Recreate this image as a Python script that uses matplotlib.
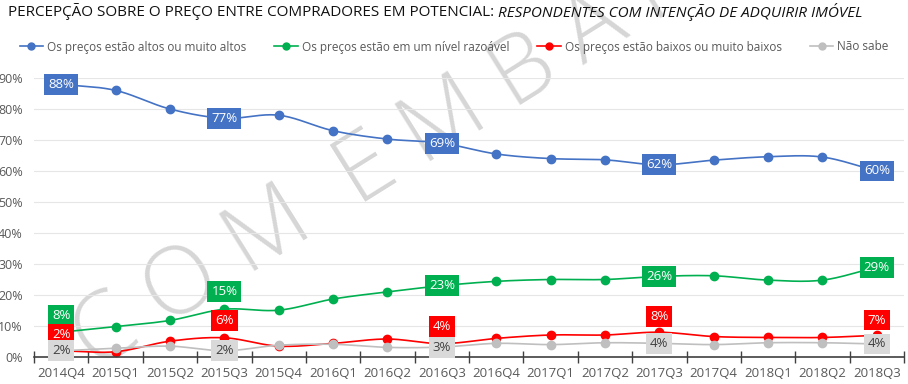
import numpy as np
import matplotlib
matplotlib.use("Agg")
from matplotlib import pyplot as plt

plt.rcParams['font.family'] = ['Open Sans', 'DejaVu Sans']

quarters = ["2014Q4", "2015Q1", "2015Q2", "2015Q3", "2015Q4", "2016Q1", "2016Q2", "2016Q3",
            "2016Q4", "2017Q1", "2017Q2", "2017Q3", "2017Q4", "2018Q1", "2018Q2", "2018Q3"]

altos = [88, 86, 80, 77, 78, 73, 70.3, 69, 65.5, 64, 63.6, 62, 63.5, 64.6, 64.5, 60]
razoavel = [8, 9.8, 11.8, 15.4, 15.1, 18.7, 21, 23, 24.4, 25, 25, 26, 26.2, 24.8, 24.8, 29]
baixos = [2, 1.7, 5.1, 6.2, 3.5, 4.4, 5.8, 4.3, 6, 7.1, 7.1, 8, 6.6, 6.3, 6.3, 7]
nao_sabe = [2, 2.8, 3.5, 2, 3.8, 4.1, 3.1, 3.2, 4.4, 4.0, 4.6, 4.4, 4.0, 4.6, 4.6, 4.2]

labels_idx = [0, 3, 7, 11, 15]  # pontos com rótulo

series = [
    ("Os preços estão altos ou muito altos", altos, "#4472C4", "white", "#4472C4"),
    ("Os preços estão em um nível razoável", razoavel, "#00B050", "white", "#00B050"),
    ("Os preços estão baixos ou muito baixos", baixos, "#FF0000", "white", "#FF0000"),
    ("Não sabe", nao_sabe, "#BFBFBF", "#404040", "#D9D9D9"),
]
# deslocamento vertical dos rótulos (em pontos)
offsets = {
    0: [0, 0, 0, 0, 0],
    1: [12, 13, 0, 0, 0],
    2: [12, 12.5, 12.5, 11, 11],
    3: [0, 0, 0, 0, 0],
}


def smooth(y, n=20):
    """Courbe de Catmull-Rom passant par les points (pour le tracé lissé)."""
    y = np.asarray(y, dtype=float)
    x = np.arange(len(y), dtype=float)
    p = np.concatenate([[2 * y[0] - y[1]], y, [2 * y[-1] - y[-2]]])
    xs, ys = [], []
    for i in range(len(y) - 1):
        p0, p1, p2, p3 = p[i], p[i + 1], p[i + 2], p[i + 3]
        t = np.linspace(0, 1, n, endpoint=False)
        yy = 0.5 * ((2 * p1) + (-p0 + p2) * t + (2 * p0 - 5 * p1 + 4 * p2 - p3) * t ** 2
                    + (-p0 + 3 * p1 - 3 * p2 + p3) * t ** 3)
        xs.append(x[i] + t)
        ys.append(yy)
    xs.append([x[-1]])
    ys.append([y[-1]])
    return np.concatenate(xs), np.concatenate(ys)


fig = plt.figure(figsize=(9.08, 3.84), dpi=100)
ax = fig.add_axes([34 / 908, 1 - 357 / 384, 870 / 908, 279 / 384])
ax.set_facecolor("none")

x = np.arange(len(quarters))
handles = []
for k, (name, vals, col, tcol, bcol) in enumerate(series):
    xs, ys = smooth(vals)
    ax.plot(xs, ys, color=col, lw=1.2, zorder=2 + k * 0.1)
    ax.plot(x, vals, "o", color=col, ms=6, zorder=2 + k * 0.1)
    h, = ax.plot([], [], "-o", color=col, lw=1.2, ms=5, label=name)
    handles.append(h)

# rótulos: desenhados de baixo para cima
for k in [3, 2, 1, 0]:
    name, vals, col, tcol, bcol = series[k]
    for j, i in enumerate(labels_idx):
        ax.annotate(f"{vals[i]:.0f}%", (x[i], vals[i]), xytext=(0, offsets[k][j]),
                    textcoords="offset points", ha="center", va="center",
                    fontsize=9.5, color=tcol, zorder=5 + k,
                    bbox=dict(boxstyle="square,pad=0.3", fc=bcol, ec="none"),
                    annotation_clip=False)

ax.set_xlim(-0.5, len(quarters) - 0.5)
ax.set_ylim(0, 90)
ax.set_yticks(range(0, 91, 10))
ax.set_yticklabels([f"{v}%" for v in range(0, 91, 10)])
ax.set_xticks(x)
ax.set_xticklabels(quarters)
ax.set_xticks(np.arange(-0.5, len(quarters)), minor=True)
ax.tick_params(axis="x", which="major", length=0, pad=7, labelsize=9.5, labelcolor="#595959")
ax.tick_params(axis="x", which="minor", length=8, direction="inout", color="#404040", width=1)
ax.tick_params(axis="y", length=0, pad=8, labelsize=9, labelcolor="#595959")
ax.grid(axis="y", color="#E6E6E6", lw=0.8)
ax.set_axisbelow(True)
for s in ["top", "right", "left"]:
    ax.spines[s].set_visible(False)
ax.spines["bottom"].set_color("#404040")
ax.spines["bottom"].set_linewidth(1.2)

fig.legend(handles=handles, loc="center", bbox_to_anchor=(0.5, 1 - 47 / 384), ncol=4,
           frameon=False, fontsize=8.5, labelcolor="#595959", handlelength=2.0,
           columnspacing=2.4, handletextpad=0.3)

# título: parte normal + parte em itálico
t1 = fig.text(8 / 908, 1 - 12 / 384, "PERCEPÇÃO SOBRE O PREÇO ENTRE COMPRADORES EM POTENCIAL: ",
              fontsize=11, color="#111111", va="center", ha="left")
fig.canvas.draw()
bb = t1.get_window_extent()
fig.text(bb.x1 / fig.bbox.width, 1 - 12 / 384, "RESPONDENTES COM INTENÇÃO DE ADQUIRIR IMÓVEL",
         fontsize=11, color="#111111", va="center", ha="left", style="italic")

# marca d'água
fig.text(94 / 908, 1 - 371 / 384, "C O M  E M B A R G O", fontsize=68, color="#D6D6D6",
         fontweight="light", rotation=32, rotation_mode="anchor", ha="left", va="baseline",
         zorder=-1)

fig.savefig("out.png", dpi=100)
